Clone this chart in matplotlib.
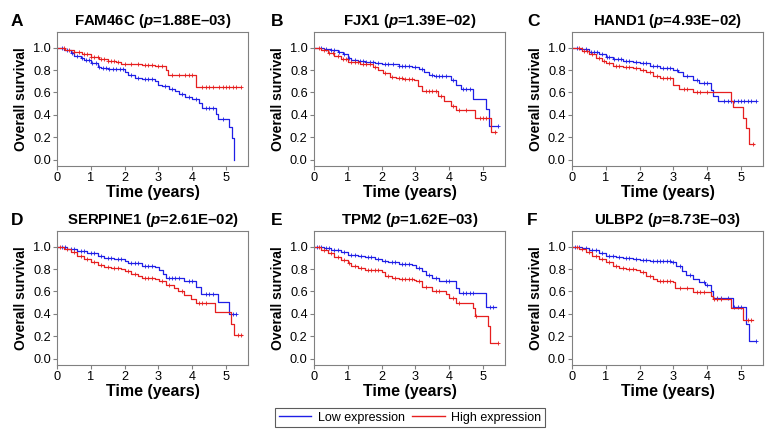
import numpy as np
import matplotlib
matplotlib.use("Agg")
import matplotlib.pyplot as plt
from matplotlib.lines import Line2D

plt.rcParams['font.family'] = ['Liberation Sans', 'DejaVu Sans']
plt.rcParams['mathtext.fontset'] = 'custom'
plt.rcParams['mathtext.it'] = 'Liberation Sans:italic:bold'
plt.rcParams['mathtext.rm'] = 'Liberation Sans:bold'

BLUE = '#1f1fe6'
RED = '#e61f1f'

letters = ['A', 'B', 'C', 'D', 'E', 'F']
genes = ['FAM46C', 'FJX1', 'HAND1', 'SERPINE1', 'TPM2', 'ULBP2']
pvalues = ['1.88E\u201303', '1.39E\u201302', '4.93E\u201302', '2.61E\u201302', '1.62E\u201303', '8.73E\u201303']
x_ticks = [0, 1, 2, 3, 4, 5]
y_ticks = [0.0, 0.2, 0.4, 0.6, 0.8, 1.0]
legend_labels = ['Low expression', 'High expression']

# ---- FAM46C ----
fam46c_low_t = [0, 0.2, 0.4, 0.5, 0.7, 0.8, 1.0, 1.2, 1.3, 1.5, 2.0, 2.1, 2.3, 2.5, 2.9, 3.0, 3.1, 3.3, 3.5, 3.6, 3.8, 4.0, 4.2, 4.3, 4.7, 4.75, 5.1, 5.17, 5.25, 5.25]
fam46c_low_s = [1.0, 0.98, 0.95, 0.93, 0.91, 0.89, 0.86, 0.83, 0.82, 0.81, 0.78, 0.76, 0.73, 0.72, 0.70, 0.67, 0.66, 0.63, 0.61, 0.59, 0.56, 0.54, 0.51, 0.465, 0.41, 0.36, 0.29, 0.19, 0.0, 0.0]
fam46c_low_cens = [0.15, 0.3, 0.45, 0.6, 0.75, 0.85, 0.95, 1.05, 1.15, 1.25, 1.35, 1.45, 1.55, 1.65, 1.75, 1.85, 1.95, 2.2, 2.4, 2.6, 2.7, 2.8, 3.2, 3.4, 3.7, 3.9, 4.1, 4.4, 4.5, 4.6, 4.9]
fam46c_high_t = [0, 0.25, 0.5, 0.75, 1.0, 1.25, 1.5, 1.75, 1.9, 2.5, 2.9, 3.23, 3.28, 4.11, 5.45]
fam46c_high_s = [1.0, 0.98, 0.96, 0.94, 0.92, 0.90, 0.88, 0.87, 0.855, 0.845, 0.84, 0.80, 0.755, 0.645, 0.645]
fam46c_high_cens = [0.2, 0.35, 0.5, 0.65, 0.8, 0.9, 1.0, 1.1, 1.2, 1.3, 1.4, 1.5, 1.6, 1.7, 1.8, 2.0, 2.2, 2.4, 2.6, 2.7, 2.8, 3.0, 3.1, 3.4, 3.6, 3.8, 3.9, 4.0, 4.3, 4.4, 4.5, 4.6, 4.8, 4.9, 5.0, 5.1, 5.2, 5.3, 5.45]

# ---- FJX1 ----
fjx1_low_t = [0, 0.3, 0.5, 0.7, 0.85, 1.0, 1.1, 1.3, 1.5, 1.8, 2.0, 2.5, 2.9, 3.1, 3.25, 3.4, 3.55, 4.05, 4.2, 4.35, 4.69, 5.08, 5.18, 5.45]
fjx1_low_s = [1.0, 0.99, 0.98, 0.96, 0.94, 0.91, 0.89, 0.88, 0.87, 0.86, 0.85, 0.84, 0.83, 0.81, 0.78, 0.76, 0.75, 0.715, 0.67, 0.635, 0.545, 0.45, 0.30, 0.30]
fjx1_low_cens = [0.2, 0.35, 0.5, 0.6, 0.75, 0.9, 1.05, 1.2, 1.35, 1.45, 1.55, 1.65, 1.75, 1.9, 2.1, 2.2, 2.35, 2.5, 2.6, 2.7, 2.8, 3.0, 3.2, 3.5, 3.6, 3.7, 3.8, 3.9, 4.1, 4.4, 4.5, 4.6, 5.45]
fjx1_high_t = [0, 0.2, 0.4, 0.6, 0.8, 1.0, 1.35, 1.75, 1.9, 2.04, 2.24, 2.43, 2.63, 2.97, 3.07, 3.2, 3.66, 3.85, 4.05, 4.2, 4.76, 5.23, 5.37]
fjx1_high_s = [1.0, 0.98, 0.95, 0.93, 0.90, 0.87, 0.85, 0.83, 0.80, 0.77, 0.74, 0.73, 0.72, 0.71, 0.655, 0.61, 0.565, 0.52, 0.475, 0.44, 0.375, 0.25, 0.25]
fjx1_high_cens = [0.15, 0.3, 0.45, 0.55, 0.7, 0.85, 0.95, 1.1, 1.2, 1.3, 1.45, 1.55, 1.65, 1.8, 2.1, 2.3, 2.5, 2.6, 2.7, 2.8, 2.9, 3.3, 3.4, 3.5, 3.6, 3.75, 4.1, 4.3, 4.5, 4.9, 5.0, 5.1, 5.35]

# ---- HAND1 ----
hand1_low_t = [0, 0.2, 0.5, 0.8, 1.0, 1.2, 1.5, 1.8, 2.0, 2.3, 2.6, 2.99, 3.15, 3.28, 3.58, 3.77, 4.12, 4.17, 4.31, 5.44]
hand1_low_s = [1.0, 0.99, 0.96, 0.94, 0.92, 0.90, 0.885, 0.87, 0.86, 0.84, 0.82, 0.80, 0.78, 0.745, 0.71, 0.68, 0.62, 0.57, 0.52, 0.52]
hand1_low_cens = [0.15, 0.3, 0.4, 0.55, 0.65, 0.75, 0.9, 1.05, 1.1, 1.25, 1.35, 1.45, 1.6, 1.7, 1.9, 2.1, 2.2, 2.4, 2.5, 2.7, 2.8, 2.9, 3.1, 3.4, 3.7, 3.9, 4.0, 4.5, 4.6, 4.7, 4.8, 4.9, 5.0, 5.1, 5.2, 5.3, 5.44]
hand1_high_t = [0, 0.3, 0.5, 0.7, 0.9, 1.0, 1.2, 1.5, 1.8, 2.0, 2.2, 2.4, 2.6, 3.0, 3.17, 3.58, 4.7, 4.75, 5.07, 5.15, 5.23, 5.39]
hand1_high_s = [1.0, 0.97, 0.94, 0.91, 0.88, 0.86, 0.84, 0.83, 0.82, 0.80, 0.78, 0.75, 0.73, 0.665, 0.635, 0.60, 0.52, 0.47, 0.375, 0.28, 0.14, 0.14]
hand1_high_cens = [0.2, 0.35, 0.45, 0.6, 0.8, 0.95, 1.1, 1.3, 1.4, 1.6, 1.7, 1.9, 2.1, 2.3, 2.5, 2.7, 2.8, 2.9, 3.3, 3.4, 3.7, 3.8, 4.0, 5.35]

# ---- SERPINE1 ----
serpine1_low_t = [0, 0.3, 0.6, 0.9, 1.2, 1.4, 1.7, 2.0, 2.1, 2.5, 2.9, 3.03, 3.13, 3.23, 3.77, 4.11, 4.26, 4.75, 5.08, 5.3]
serpine1_low_s = [1.0, 0.98, 0.96, 0.94, 0.92, 0.90, 0.89, 0.87, 0.85, 0.83, 0.82, 0.79, 0.76, 0.72, 0.69, 0.64, 0.58, 0.505, 0.40, 0.40]
serpine1_low_cens = [0.15, 0.25, 0.4, 0.5, 0.7, 0.8, 1.0, 1.1, 1.3, 1.5, 1.6, 1.8, 1.9, 2.2, 2.3, 2.4, 2.6, 2.7, 2.8, 3.3, 3.4, 3.5, 3.6, 3.9, 4.0, 4.4, 4.5, 4.6, 5.2, 5.3]
serpine1_high_t = [0, 0.2, 0.4, 0.6, 0.8, 1.0, 1.2, 1.4, 1.6, 1.9, 2.0, 2.2, 2.4, 2.5, 2.9, 3.03, 3.23, 3.47, 3.57, 3.77, 3.97, 4.11, 4.68, 5.15, 5.25, 5.47]
serpine1_high_s = [1.0, 0.98, 0.95, 0.92, 0.89, 0.86, 0.84, 0.82, 0.81, 0.80, 0.78, 0.76, 0.74, 0.72, 0.715, 0.69, 0.655, 0.63, 0.60, 0.565, 0.53, 0.50, 0.42, 0.31, 0.21, 0.21]
serpine1_high_cens = [0.1, 0.3, 0.5, 0.7, 0.9, 1.1, 1.3, 1.5, 1.7, 1.8, 2.1, 2.3, 2.6, 2.7, 2.8, 3.1, 3.3, 3.7, 4.2, 4.3, 4.4, 5.35, 5.45]

# ---- TPM2 ----
tpm2_low_t = [0, 0.3, 0.5, 0.8, 1.0, 1.3, 1.5, 1.8, 2.0, 2.2, 2.5, 2.9, 3.02, 3.2, 3.3, 3.5, 3.7, 4.2, 4.3, 5.08, 5.37]
tpm2_low_s = [1.0, 0.99, 0.97, 0.95, 0.93, 0.92, 0.91, 0.89, 0.87, 0.86, 0.845, 0.835, 0.81, 0.78, 0.75, 0.72, 0.69, 0.63, 0.59, 0.465, 0.465]
tpm2_low_cens = [0.1, 0.2, 0.35, 0.45, 0.6, 0.7, 0.9, 1.1, 1.2, 1.4, 1.6, 1.7, 1.9, 2.1, 2.3, 2.4, 2.6, 2.7, 2.8, 3.1, 3.4, 3.6, 3.9, 4.0, 4.4, 4.5, 4.6, 4.7, 5.2, 5.3]
tpm2_high_t = [0, 0.2, 0.4, 0.6, 0.8, 1.0, 1.1, 1.3, 1.5, 2.0, 2.1, 2.3, 2.5, 2.95, 3.02, 3.2, 3.5, 3.9, 4.0, 4.2, 4.69, 4.76, 5.16, 5.2, 5.45]
tpm2_high_s = [1.0, 0.97, 0.94, 0.91, 0.88, 0.85, 0.83, 0.81, 0.795, 0.77, 0.74, 0.72, 0.71, 0.70, 0.69, 0.64, 0.60, 0.58, 0.545, 0.50, 0.455, 0.38, 0.29, 0.14, 0.14]
tpm2_high_cens = [0.15, 0.3, 0.5, 0.7, 0.9, 1.05, 1.2, 1.4, 1.6, 1.7, 1.8, 1.9, 2.2, 2.4, 2.6, 2.7, 2.8, 2.9, 3.1, 3.3, 3.6, 3.7, 4.1, 4.3, 4.8, 5.45]

# ---- ULBP2 ----
ulbp2_low_t = [0, 0.3, 0.5, 0.8, 1.0, 1.3, 1.5, 1.8, 2.0, 2.3, 2.94, 3.09, 3.24, 3.38, 3.58, 3.77, 3.92, 4.12, 4.17, 4.75, 5.15, 5.23, 5.44]
ulbp2_low_s = [1.0, 0.99, 0.97, 0.94, 0.92, 0.91, 0.90, 0.89, 0.88, 0.87, 0.86, 0.83, 0.78, 0.75, 0.71, 0.68, 0.655, 0.60, 0.545, 0.465, 0.31, 0.16, 0.16]
ulbp2_low_cens = [0.1, 0.2, 0.4, 0.6, 0.7, 0.9, 1.1, 1.2, 1.4, 1.6, 1.7, 1.9, 2.1, 2.2, 2.4, 2.5, 2.6, 2.7, 2.8, 2.9, 3.0, 3.2, 3.5, 3.9, 4.0, 4.3, 4.4, 4.6, 4.8, 4.9, 5.0, 5.44]
ulbp2_high_t = [0, 0.2, 0.4, 0.6, 0.8, 1.0, 1.2, 1.4, 1.6, 1.9, 2.0, 2.2, 2.4, 2.5, 3.0, 3.05, 3.58, 4.12, 4.17, 4.7, 5.07, 5.34]
ulbp2_high_s = [1.0, 0.98, 0.95, 0.92, 0.89, 0.86, 0.83, 0.81, 0.80, 0.79, 0.77, 0.74, 0.71, 0.69, 0.68, 0.635, 0.595, 0.56, 0.535, 0.455, 0.345, 0.345]
ulbp2_high_cens = [0.15, 0.3, 0.5, 0.7, 0.9, 1.1, 1.3, 1.5, 1.7, 1.8, 2.1, 2.3, 2.6, 2.7, 2.8, 2.9, 3.2, 3.4, 3.7, 3.8, 3.9, 4.2, 4.3, 4.4, 5.2, 5.3]

curves = [
    (fam46c_low_t, fam46c_low_s, fam46c_low_cens, fam46c_high_t, fam46c_high_s, fam46c_high_cens),
    (fjx1_low_t, fjx1_low_s, fjx1_low_cens, fjx1_high_t, fjx1_high_s, fjx1_high_cens),
    (hand1_low_t, hand1_low_s, hand1_low_cens, hand1_high_t, hand1_high_s, hand1_high_cens),
    (serpine1_low_t, serpine1_low_s, serpine1_low_cens, serpine1_high_t, serpine1_high_s, serpine1_high_cens),
    (tpm2_low_t, tpm2_low_s, tpm2_low_cens, tpm2_high_t, tpm2_high_s, tpm2_high_cens),
    (ulbp2_low_t, ulbp2_low_s, ulbp2_low_cens, ulbp2_high_t, ulbp2_high_s, ulbp2_high_cens),
]

W, H = 780, 434
fig = plt.figure(figsize=(W / 100, H / 100), dpi=100)

ax_left_px = [57, 314, 572]
ax_top_px = [32, 231]
ax_w_px, ax_h_px = 191, 134
letter_x_px = [11, 271, 527]
letter_base_px = [26, 225]

SPINE = '#808080'


def draw_km(ax, t, s, cens, color):
    t = np.asarray(t, float)
    s = np.asarray(s, float)
    ax.step(t, s, where='post', color=color, lw=0.9)
    c = np.asarray(cens, float)
    idx = np.searchsorted(t, c, side='right') - 1
    ax.plot(c, s[idx], ls='none', marker='+', color=color, ms=3.5, mew=0.6)


for i in range(6):
    r, col = divmod(i, 3)
    left = ax_left_px[col] / W
    bottom = 1 - (ax_top_px[r] + ax_h_px) / H
    ax = fig.add_axes([left, bottom, ax_w_px / W, ax_h_px / H])
    lt, ls_, lc, ht, hs, hc = curves[i]
    draw_km(ax, lt, ls_, lc, BLUE)
    draw_km(ax, ht, hs, hc, RED)
    ax.set_xlim(0, 5.65)
    ax.set_ylim(-0.057, 1.14)
    ax.set_xticks(x_ticks)
    ax.set_xticklabels([str(v) for v in x_ticks])
    ax.set_yticks(y_ticks)
    ax.set_yticklabels(['%.1f' % v for v in y_ticks])
    for sp in ax.spines.values():
        sp.set_color(SPINE)
        sp.set_linewidth(0.8)
    ax.tick_params(direction='out', length=3, width=0.8, color=SPINE,
                   labelsize=9.2, pad=1.5)
    ax.set_xlabel('Time (years)', fontsize=11.5, fontweight='bold', labelpad=0.5)
    ax.set_ylabel('Overall survival', fontsize=10, fontweight='bold', labelpad=3.5)
    ax.set_title(genes[i] + ' ($\\mathit{p}$=' + pvalues[i] + ')',
                 fontsize=10.8, fontweight='bold', pad=5)
    fig.text(letter_x_px[col] / W, 1 - letter_base_px[r] / H, letters[i],
             fontsize=12.5, fontweight='bold', ha='left', va='baseline')

handles = [Line2D([], [], color=BLUE, lw=1.0), Line2D([], [], color=RED, lw=1.0)]
leg = fig.legend(handles, legend_labels, loc='center',
                 bbox_to_anchor=(410 / W, 1 - 417.5 / H), ncol=2,
                 fontsize=9, frameon=True, fancybox=False, edgecolor='#333333',
                 handlelength=2.6, handletextpad=0.5, columnspacing=0.6,
                 borderpad=0.3, borderaxespad=0)
leg.get_frame().set_linewidth(0.8)

fig.savefig('out.png', dpi=100)
